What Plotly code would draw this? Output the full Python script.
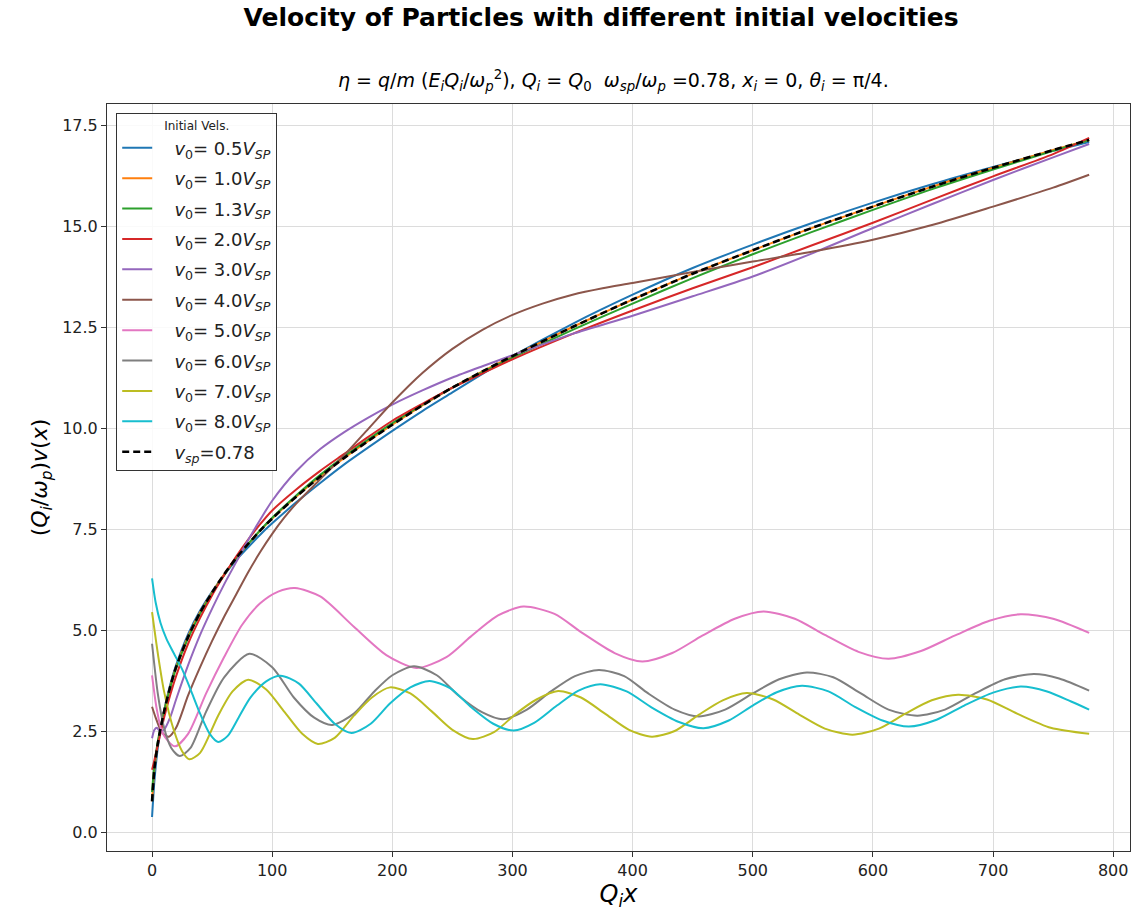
import plotly.graph_objects as go

# ---- data: normalised velocity (Q_i/w_p) v(x) versus Q_i x ----
x_main = [0, 2, 5, 10, 15, 20, 30, 40, 50, 60, 70, 80, 90, 100, 120, 140, 160, 180,
          200, 225, 250, 275, 300, 350, 400, 450, 500, 550, 600, 650, 700, 750, 780]

v_05 = [0.39, 1.30, 2.15, 3.02, 3.65, 4.15, 4.92, 5.50, 5.97, 6.38, 6.75, 7.07, 7.38, 7.66,
        8.18, 8.66, 9.12, 9.54, 9.95, 10.44, 10.90, 11.36, 11.80, 12.60, 13.32, 13.98,
        14.56, 15.10, 15.60, 16.06, 16.48, 16.88, 17.10]
v_10 = [0.78, 1.60, 2.25, 3.00, 3.60, 4.10, 4.86, 5.46, 5.95, 6.40, 6.80, 7.15, 7.48, 7.78,
        8.32, 8.82, 9.28, 9.70, 10.10, 10.58, 11.02, 11.42, 11.80, 12.52, 13.20, 13.84,
        14.42, 14.98, 15.50, 16.00, 16.46, 16.90, 17.15]
v_13 = [1.01, 1.70, 2.30, 3.00, 3.58, 4.07, 4.82, 5.42, 5.93, 6.38, 6.79, 7.15, 7.49, 7.80,
        8.35, 8.86, 9.32, 9.74, 10.14, 10.60, 11.02, 11.40, 11.76, 12.45, 13.10, 13.73,
        14.32, 14.88, 15.42, 15.94, 16.42, 16.88, 17.15]
v_20 = [1.56, 1.80, 2.20, 2.85, 3.40, 3.88, 4.68, 5.32, 5.88, 6.38, 6.84, 7.26, 7.64, 7.98,
        8.50, 8.96, 9.38, 9.80, 10.20, 10.62, 11.02, 11.37, 11.72, 12.35, 12.93, 13.48,
        14.00, 14.55, 15.10, 15.68, 16.25, 16.80, 17.20]
v_sp = [0.78, 1.60, 2.25, 3.00, 3.60, 4.10, 4.85, 5.45, 5.95, 6.40, 6.80, 7.15, 7.48, 7.78,
        8.32, 8.82, 9.28, 9.70, 10.10, 10.58, 11.02, 11.42, 11.80, 12.52, 13.20, 13.84,
        14.42, 14.98, 15.50, 16.00, 16.46, 16.90, 17.15]

x_30 = [0, 2, 4, 7, 10, 15, 20, 30, 40, 50, 60, 70, 80, 90, 100, 120, 140, 160, 180, 200,
        225, 250, 275, 300, 350, 400, 450, 500, 550, 600, 650, 700, 750, 780]
v_30 = [2.34, 2.55, 2.60, 2.50, 2.55, 2.85, 3.30, 4.15, 4.90, 5.55, 6.15, 6.70, 7.25, 7.75,
        8.22, 8.95, 9.50, 9.92, 10.28, 10.60, 10.95, 11.27, 11.55, 11.82, 12.35, 12.80,
        13.28, 13.77, 14.35, 14.97, 15.57, 16.16, 16.72, 17.05]

x_40 = [0, 3, 7, 10, 14, 20, 30, 40, 50, 60, 70, 80, 90, 100, 110, 120, 140, 160, 180, 200,
        225, 250, 275, 300, 325, 350, 375, 400, 450, 500, 550, 600, 650, 700, 750, 780]
v_40 = [3.12, 2.85, 2.55, 2.43, 2.38, 2.60, 3.40, 4.10, 4.75, 5.35, 5.90, 6.45, 6.95, 7.40,
        7.80, 8.15, 8.75, 9.35, 10.00, 10.65, 11.38, 11.98, 12.45, 12.82, 13.10, 13.32,
        13.48, 13.61, 13.88, 14.14, 14.39, 14.68, 15.05, 15.50, 15.97, 16.29]

x_50 = [0, 4, 9, 19, 30, 45, 60, 75, 90, 105, 119, 140, 168, 195, 220, 245, 265, 288, 309,
        335, 358, 385, 408, 433, 458, 485, 509, 535, 560, 588, 613, 640, 668, 697, 723, 750, 780]
v_50 = [3.90, 3.05, 2.45, 2.14, 2.45, 3.45, 4.35, 5.15, 5.68, 5.97, 6.06, 5.85, 5.10, 4.40,
        4.08, 4.35, 4.85, 5.38, 5.60, 5.42, 4.95, 4.45, 4.24, 4.45, 4.88, 5.30, 5.48, 5.30,
        4.90, 4.48, 4.31, 4.50, 4.88, 5.25, 5.41, 5.30, 4.95]

x_60 = [0, 5, 10, 16, 23, 32, 45, 60, 81, 100, 118, 135, 150, 168, 185, 200, 218, 237, 255,
        275, 292, 312, 332, 352, 372, 393, 413, 435, 455, 477, 500, 522, 545, 567, 590, 613,
        637, 660, 685, 710, 734, 755, 780]
v_60 = [4.68, 3.40, 2.60, 2.10, 1.90, 2.10, 3.00, 3.85, 4.43, 4.10, 3.35, 2.85, 2.67, 2.95,
        3.50, 3.90, 4.12, 3.90, 3.40, 2.98, 2.81, 3.05, 3.50, 3.88, 4.03, 3.88, 3.45, 3.05,
        2.88, 3.05, 3.45, 3.80, 3.97, 3.85, 3.45, 3.05, 2.90, 3.05, 3.45, 3.80, 3.93, 3.82,
        3.52]

x_70 = [0, 5, 10, 18, 25, 31, 40, 55, 67, 80, 95, 110, 125, 138, 152, 168, 183, 198, 215,
        233, 250, 267, 285, 303, 320, 338, 357, 377, 397, 416, 435, 455, 475, 495, 517, 539,
        560, 583, 605, 627, 649, 671, 695, 720, 748, 780]
v_70 = [5.46, 4.40, 3.50, 2.55, 2.02, 1.82, 1.98, 2.90, 3.50, 3.79, 3.55, 3.00, 2.45, 2.20,
        2.35, 2.90, 3.35, 3.60, 3.45, 3.00, 2.55, 2.32, 2.50, 2.95, 3.30, 3.51, 3.35, 2.95,
        2.55, 2.38, 2.52, 2.92, 3.28, 3.46, 3.30, 2.92, 2.58, 2.43, 2.58, 2.95, 3.28, 3.42,
        3.30, 2.95, 2.60, 2.45]

x_80 = [0, 3, 7, 12, 18, 25, 32, 40, 48, 55, 63, 72, 82, 95, 107, 122, 137, 152, 166, 182,
        198, 215, 231, 248, 266, 284, 301, 318, 337, 355, 373, 395, 416, 438, 459, 480, 500,
        520, 541, 563, 585, 608, 630, 653, 676, 700, 723, 745, 765, 780]
v_80 = [6.30, 5.70, 5.20, 4.80, 4.45, 4.05, 3.55, 2.95, 2.45, 2.25, 2.40, 2.85, 3.35, 3.75,
        3.89, 3.70, 3.20, 2.70, 2.47, 2.70, 3.20, 3.60, 3.76, 3.58, 3.10, 2.70, 2.53, 2.72,
        3.15, 3.52, 3.68, 3.50, 3.10, 2.75, 2.59, 2.78, 3.15, 3.48, 3.64, 3.50, 3.12, 2.78,
        2.63, 2.80, 3.15, 3.47, 3.62, 3.50, 3.25, 3.05]

factors = ["0.5", "1.0", "1.3", "2.0", "3.0", "4.0", "5.0", "6.0", "7.0", "8.0"]
series_x = [x_main, x_main, x_main, x_main, x_30, x_40, x_50, x_60, x_70, x_80]
series_y = [v_05, v_10, v_13, v_20, v_30, v_40, v_50, v_60, v_70, v_80]
colors = ["#1f77b4", "#ff7f0e", "#2ca02c", "#d62728", "#9467bd",
          "#8c564b", "#e377c2", "#7f7f7f", "#bcbd22", "#17becf"]

FONT = "DejaVu Sans, Liberation Sans, sans-serif"
SMOOTH = 0.75
PAD = "&nbsp;&nbsp;&nbsp;"  # gap between legend line sample and its label

fig = go.Figure()
for i, (f, xs, ys, c) in enumerate(zip(factors, series_x, series_y, colors)):
    fig.add_trace(go.Scatter(
        x=xs, y=ys, mode="lines", legendgroup=f"g{i}",
        line=dict(color=c, width=2, shape="spline", smoothing=SMOOTH),
        name=f"{PAD}<i>v</i><sub>0</sub>= {f}<i>V</i><sub><i>SP</i></sub>",
    ))
fig.add_trace(go.Scatter(
    x=x_main, y=v_sp, mode="lines", legendgroup="gsp",
    line=dict(color="black", width=2.6, dash="7px,4px", shape="spline", smoothing=SMOOTH),
    name=f"{PAD}<i>v</i><sub><i>sp</i></sub>=0.78",
))

fig.update_layout(
    width=1132, height=911,
    margin=dict(l=107, r=2, t=104, b=60),
    paper_bgcolor="white", plot_bgcolor="white",
    font=dict(family=FONT, color="#222"),
    title=dict(
        text="<b>Velocity of Particles with different initial velocities</b>",
        x=0.531, xanchor="center", y=1 - 17 / 911, yanchor="middle", yref="container",
        font=dict(size=25, family=FONT, color="black"),
    ),
    legend=dict(
        x=0.009, y=0.988, xanchor="left", yanchor="top",
        bgcolor="rgba(255,255,255,0.85)", bordercolor="#333", borderwidth=1,
        font=dict(size=18, family=FONT, color="#222"),
        title=dict(text="Initial Vels.", side="top center", font=dict(size=12, family=FONT)),
        tracegroupgap=4,
    ),
    showlegend=True,
)

fig.add_annotation(
    text=("<i>η</i> = <i>q</i>/<i>m</i> (<i>E<sub>i</sub>Q<sub>i</sub></i>/<i>ω</i><sub><i>p</i></sub><sup>2</sup>), "
          "<i>Q<sub>i</sub></i> = <i>Q</i><sub>0</sub>  <i>ω<sub>sp</sub></i>/<i>ω<sub>p</sub></i> =0.78, "
          "<i>x<sub>i</sub></i> = 0, <i>θ<sub>i</sub></i> = π/4."),
    xref="paper", yref="paper", x=0.495, y=1 + 8 / 747, xanchor="center", yanchor="bottom",
    showarrow=False, font=dict(size=19, family=FONT, color="black"),
)

axis_common = dict(
    showline=True, linecolor="#333", linewidth=1, mirror=True,
    showgrid=True, gridcolor="#dcdcdc", gridwidth=1,
    ticks="outside", ticklen=5, tickcolor="#333",
    tickfont=dict(size=16, family=FONT, color="#222"), zeroline=False,
)
fig.update_xaxes(
    range=[-37.5, 814], tickmode="array", tickvals=list(range(0, 801, 100)),
    title=dict(text="<i>Q<sub>i</sub>x</i>", font=dict(size=24, family=FONT, color="black"), standoff=6),
    **axis_common,
)
fig.update_yaxes(
    range=[-0.45, 18.04], tickmode="array", tickvals=[0, 2.5, 5, 7.5, 10, 12.5, 15, 17.5],
    tickformat=".1f",
    title=dict(text="(<i>Q<sub>i</sub></i>/<i>ω<sub>p</sub></i>)<i>v</i>(<i>x</i>)",
               font=dict(size=22, family=FONT, color="black"), standoff=8),
    **axis_common,
)

fig.write_html("out.html")
